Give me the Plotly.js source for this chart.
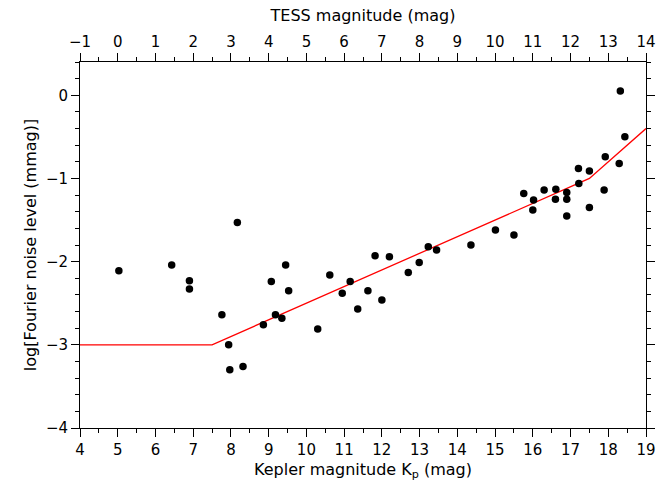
<!DOCTYPE html>
<html>
<head>
<meta charset="utf-8">
<script src="https://cdn.plot.ly/plotly-3.0.1.min.js"></script>
<style>html,body{margin:0;padding:0;background:#fff;}#chart{width:656px;height:488px;}</style>
</head>
<body>
<div id="chart"></div>
<script>
// Kepler magnitude of each star
const keplerMag = [5.03, 6.43, 6.90, 6.90, 8.17, 7.76, 7.94, 7.97, 8.32, 9.07, 9.45, 9.53, 8.86, 9.18, 9.35,
  10.30, 10.62, 11.16, 10.95, 11.36, 11.63, 11.82, 12.00, 12.20, 12.70, 12.99, 13.23, 13.45, 14.36, 15.01,
  15.50, 15.76, 16.02, 16.00, 16.30, 16.61, 16.60, 16.90, 16.90, 16.90, 17.21, 17.22, 17.50, 17.50, 17.92,
  17.89, 18.29, 18.32, 18.44];
// log Fourier noise level (mmag)
const logNoise = [-2.11, -2.04, -2.23, -2.33, -1.53, -2.64, -3.00, -3.30, -3.26, -2.24, -2.04, -2.35, -2.76, -2.64, -2.68,
  -2.81, -2.16, -2.24, -2.38, -2.57, -2.35, -1.93, -2.46, -1.94, -2.13, -2.01, -1.82, -1.86, -1.80, -1.62,
  -1.68, -1.18, -1.26, -1.38, -1.14, -1.13, -1.25, -1.17, -1.25, -1.45, -0.88, -1.06, -0.91, -1.35, -0.74,
  -1.14, -0.82, 0.05, -0.50];
// expected noise relation (piecewise)
const relKp = [4, 7.5, 17.5, 19];
const relNoise = [-3, -3, -1, -0.4];
// axes
const kpRange = [4, 19];
const tessRange = [-1, 14];
const noiseRange = [-4, 0.4];

const font = {family: 'DejaVu Sans, sans-serif', size: 16, color: '#000'};
const tickFont = {family: 'DejaVu Sans, sans-serif', size: 15, color: '#000'};

const traces = [
  {x: relKp, y: relNoise, mode: 'lines', line: {color: '#ff0000', width: 1.3}, hoverinfo: 'skip', showlegend: false},
  {x: keplerMag, y: logNoise, mode: 'markers', marker: {color: '#000', size: 7.5}, showlegend: false},
  {x: tessRange, y: [-10, -10], xaxis: 'x2', mode: 'markers', marker: {opacity: 0}, showlegend: false, hoverinfo: 'skip'}
];

const common = {
  showgrid: false, zeroline: false, showline: true, linecolor: '#000', linewidth: 1,
  ticks: 'outside', ticklen: 8, tickwidth: 1, tickcolor: '#000', tickfont: tickFont,
  ticklabeloverflow: 'allow',
  minor: {ticks: 'outside', ticklen: 4, tickwidth: 1, tickcolor: '#000'}
};

const layout = {
  width: 656, height: 488,
  margin: {l: 80, r: 10, t: 62, b: 60},
  paper_bgcolor: '#fff', plot_bgcolor: '#fff',
  font: font,
  xaxis: Object.assign({}, common, {
    range: kpRange, dtick: 1, tick0: 0, mirror: true,
    minor: Object.assign({}, common.minor, {dtick: 0.5}),
    title: {text: 'Kepler magnitude K<sub>p</sub> (mag)', font: font, standoff: 5}
  }),
  xaxis2: Object.assign({}, common, {
    range: tessRange, dtick: 1, tick0: 0, overlaying: 'x', side: 'top', anchor: 'y',
    minor: Object.assign({}, common.minor, {dtick: 0.5}),
    title: {text: 'TESS magnitude (mag)', font: font, standoff: 7}
  }),
  yaxis: Object.assign({}, common, {
    range: noiseRange, dtick: 1, tick0: 0, mirror: 'ticks',
    minor: Object.assign({}, common.minor, {dtick: 0.2}),
    title: {text: 'log[Fourier noise level (mmag)]', font: font, standoff: 5}
  })
};

Plotly.newPlot('chart', traces, layout, {displayModeBar: false, staticPlot: true});
</script>
</body>
</html>
